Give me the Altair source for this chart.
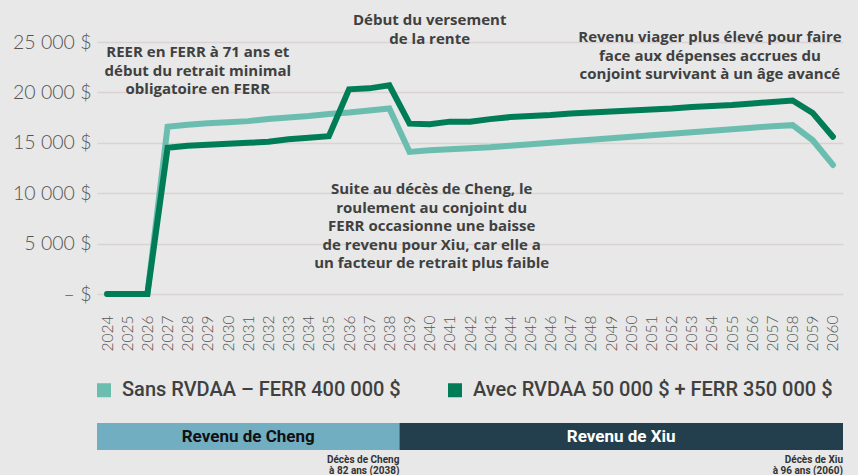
import altair as alt
import pandas as pd

years = list(range(2024, 2061))
sans = [0, 0, 0,
        16600, 16800, 16950, 17050, 17150, 17350, 17500, 17650, 17850, 18000, 18200, 18400,
        14100, 14250, 14350, 14450, 14550, 14700, 14850, 15000, 15150, 15300, 15450, 15600,
        15750, 15900, 16050, 16200, 16350, 16500, 16650, 16750,
        15250, 12800]
avec = [0, 0, 0,
        14500, 14700, 14800, 14900, 15000, 15100, 15350, 15500, 15650, 20300, 20400, 20700,
        16900, 16850, 17100, 17100, 17350, 17550, 17650, 17750, 17900, 18000, 18100, 18200,
        18300, 18400, 18550, 18650, 18750, 18900, 19050, 19200,
        17950, 15600]
series_names = ["Sans RVDAA – FERR 400 000 $", "Avec RVDAA 50 000 $ + FERR 350 000 $"]
series_colors = ["#6bbdb0", "#007d57"]

band_labels = ["Revenu de Cheng", "Revenu de Xiu"]
band_start = [2023.5, 2038.5]
band_end = [2038.5, 2060.5]
band_fill = ["#71aec1", "#233f4e"]
band_text_color = ["#111111", "#ffffff"]
death_notes = ["Décès de Cheng\nà 82 ans (2038)", "Décès de Xiu\nà 96 ans (2060)"]

annot_text = [
    "REER en FERR à 71 ans et\ndébut du retrait minimal\nobligatoire en FERR",
    "Début du versement\nde la rente",
    "Revenu viager plus élevé pour faire\nface aux dépenses accrues du\nconjoint survivant à un âge avancé",
    "Suite au décès de Cheng, le\nroulement au conjoint du\nFERR occasionne une baisse\nde revenu pour Xiu, car elle a\nun facteur de retrait plus faible",
]
annot_x = [2028.5, 2040.0, 2053.9, 2040.1]
annot_py = [10, -22, -5, 147]

rows = []
for name, vals in zip(series_names, [sans, avec]):
    for y, v in zip(years, vals):
        rows.append({"annee": y, "revenu": v, "serie": name})
df = pd.DataFrame(rows)

bands = pd.DataFrame({"label": band_labels, "start": band_start, "end": band_end,
                      "fill": band_fill, "tcol": band_text_color,
                      "mid": [(a + b) / 2 for a, b in zip(band_start, band_end)],
                      "note": death_notes})
annots = pd.DataFrame({"t": annot_text, "x": annot_x, "py": annot_py})

xscale = alt.Scale(domain=[2023.5, 2060.5], nice=False, zero=False)
xaxis = alt.Axis(values=years, format="d", labelAngle=270, title=None, grid=False,
                 domain=False, ticks=False, labelFontSize=15.5, labelFont="Lato",
                 labelFontWeight=300, labelColor="#555555", labelPadding=21,
                 labelAlign="right", labelBaseline="middle", labelOverlap=False,
                 labelFlush=False, labelBound=False)

lines = alt.Chart(df).mark_line(strokeWidth=6, strokeJoin="miter", strokeCap="round").encode(
    x=alt.X("annee:Q", scale=xscale, axis=xaxis),
    y=alt.Y("revenu:Q", scale=alt.Scale(domain=[0, 25000], nice=False),
            axis=alt.Axis(values=[0, 5000, 10000, 15000, 20000, 25000], title=None,
                          domain=False, ticks=False, labelFontSize=19.5, labelFont="Lato",
                          labelFontWeight=300, labelColor="#555555", labelPadding=6,
                          gridColor="#d9d3d3", gridWidth=1.5,
                          labelExpr="datum.value == 0 ? '– $' : replace(format(datum.value, ','), ',', ' ') + ' $'")),
    color=alt.Color("serie:N", sort=series_names,
                    scale=alt.Scale(domain=series_names, range=series_colors),
                    legend=alt.Legend(orient="none", legendX=-3, legendY=338, direction="horizontal",
                                      title=None, symbolType="square", symbolSize=49,
                                      symbolStrokeWidth=7, labelFontSize=20, labelFont="Roboto",
                                      labelFontWeight=500, labelColor="#404040", labelLimit=0,
                                      columnPadding=36, labelOffset=8, padding=0)),
    order=alt.Order("annee:Q"),
)

band_rect = alt.Chart(bands).mark_rect().encode(
    x=alt.X("start:Q", scale=xscale, axis=xaxis), x2="end:Q",
    y=alt.value(381), y2=alt.value(408),
    fill=alt.Fill("fill:N", scale=None),
)
band_txt = alt.Chart(bands).mark_text(fontSize=17, font="Roboto", fontWeight="bold").encode(
    x=alt.X("mid:Q", scale=xscale, axis=xaxis), y=alt.value(395),
    text="label:N", color=alt.Color("tcol:N", scale=None),
)
notes = alt.Chart(bands).mark_text(fontSize=10, font="Roboto", fontWeight="bold", align="right",
                                   baseline="top", lineBreak="\n", lineHeight=11,
                                   color="#333333").encode(
    x=alt.X("end:Q", scale=xscale, axis=xaxis), y=alt.value(413), text="note:N",
)
ann = alt.Chart(annots).mark_text(fontSize=15, font="Open Sans", fontWeight="bold", align="center",
                                  baseline="middle", lineBreak="\n", lineHeight=18.5,
                                  color="#404040").encode(
    x=alt.X("x:Q", scale=xscale, axis=xaxis), y=alt.Y("py:Q", scale=None), text="t:N",
)

chart = alt.layer(lines, band_rect, band_txt, notes, ann).properties(
    width=746, height=252,
    autosize=alt.AutoSizeParams(type="none"),
    padding={"left": 97, "top": 42, "right": 15, "bottom": 181},
    background="#e7e8e7",
).configure_view(stroke=None)

chart.save("out.html", embed_options={"renderer": "svg", "actions": False})
